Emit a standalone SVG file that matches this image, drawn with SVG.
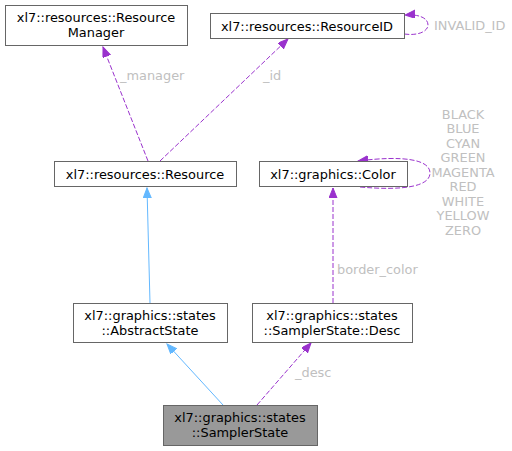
<svg xmlns="http://www.w3.org/2000/svg" width="512" height="451" viewBox="0 0 512 451">
<defs>
<marker id="ap" markerUnits="userSpaceOnUse" markerWidth="11" markerHeight="9" refX="10" refY="4" orient="auto"><path d="M0,0 L10,4 L0,8 z" fill="#9a32cd" stroke="#9a32cd"/></marker>
<marker id="ab" markerUnits="userSpaceOnUse" markerWidth="11" markerHeight="9" refX="10" refY="4" orient="auto"><path d="M0,0 L10,4 L0,8 z" fill="#63b8ff" stroke="#63b8ff"/></marker>
</defs>
<style>
.n rect{fill:#fff;stroke:#666;stroke-width:1}
.n text,.lb{font-family:"DejaVu Sans",sans-serif;font-size:12.9px}
.n text{fill:#000;text-anchor:middle}
.lb{fill:#c0c0c0}
.d{fill:none;stroke:#9a32cd;stroke-dasharray:5,2;marker-end:url(#ap)}
.s{fill:none;stroke:#63b8ff;marker-end:url(#ab)}
</style>
<rect width="512" height="451" fill="#fff"/>
<g id="connectors">
<path class="d" d="M148,161 L103,47"/>
<path class="d" d="M160,161 L288,39"/>
<path class="s" d="M150,303 L147,188"/>
<path class="s" d="M223,405 L167,344"/>
<path class="d" d="M257,405 L311,343"/>
<path class="d" d="M333,303 L333,188"/>
<path class="d" d="M360,187 C405,191 430,186 430,173 C430,160 405,155 358,161"/>
<path class="d" d="M404,34 C419,36 428,31 428,25 C428,18 419,14 405,15"/>
<text class="lb" x="120" y="80">_manager</text>
<text class="lb" x="263" y="80">_id</text>
<text class="lb" x="295" y="377">_desc</text>
<text class="lb" x="337" y="274">border_color</text>
<text class="lb" x="434" y="30">INVALID_ID</text>
<g class="lb" text-anchor="middle">
<text x="463" y="119">BLACK</text>
<text x="463" y="133">BLUE</text>
<text x="463" y="148">CYAN</text>
<text x="463" y="162">GREEN</text>
<text x="463" y="177">MAGENTA</text>
<text x="463" y="191">RED</text>
<text x="463" y="206">WHITE</text>
<text x="463" y="220">YELLOW</text>
<text x="463" y="235">ZERO</text>
</g>
</g>
<g id="node_resource_manager" class="n"><rect x="5.5" y="5.5" width="182" height="40"/><text x="96" y="21.5">xl7::resources::Resource</text><text x="96" y="36.5">Manager</text></g>
<g id="node_resource_id" class="n"><rect x="210.5" y="13.5" width="194" height="25"/><text x="307" y="30.5">xl7::resources::ResourceID</text></g>
<g id="node_resource" class="n"><rect x="54.5" y="161.5" width="182" height="25"/><text x="145" y="178.5">xl7::resources::Resource</text></g>
<g id="node_color" class="n"><rect x="259.5" y="161.5" width="148" height="25"/><text x="333" y="178.5">xl7::graphics::Color</text></g>
<g id="node_abstract_state" class="n"><rect x="73.5" y="303.5" width="154" height="39"/><text x="150" y="319.5">xl7::graphics::states</text><text x="150" y="334.5">::AbstractState</text></g>
<g id="node_desc" class="n"><rect x="252.5" y="303.5" width="160" height="39"/><text x="332" y="319.5">xl7::graphics::states</text><text x="332" y="334.5">::SamplerState::Desc</text></g>
<g id="node_sampler_state" class="n"><rect x="163.5" y="405.5" width="154" height="40" style="fill:#999"/><text x="240" y="421.5">xl7::graphics::states</text><text x="240" y="436.5">::SamplerState</text></g>
</svg>
